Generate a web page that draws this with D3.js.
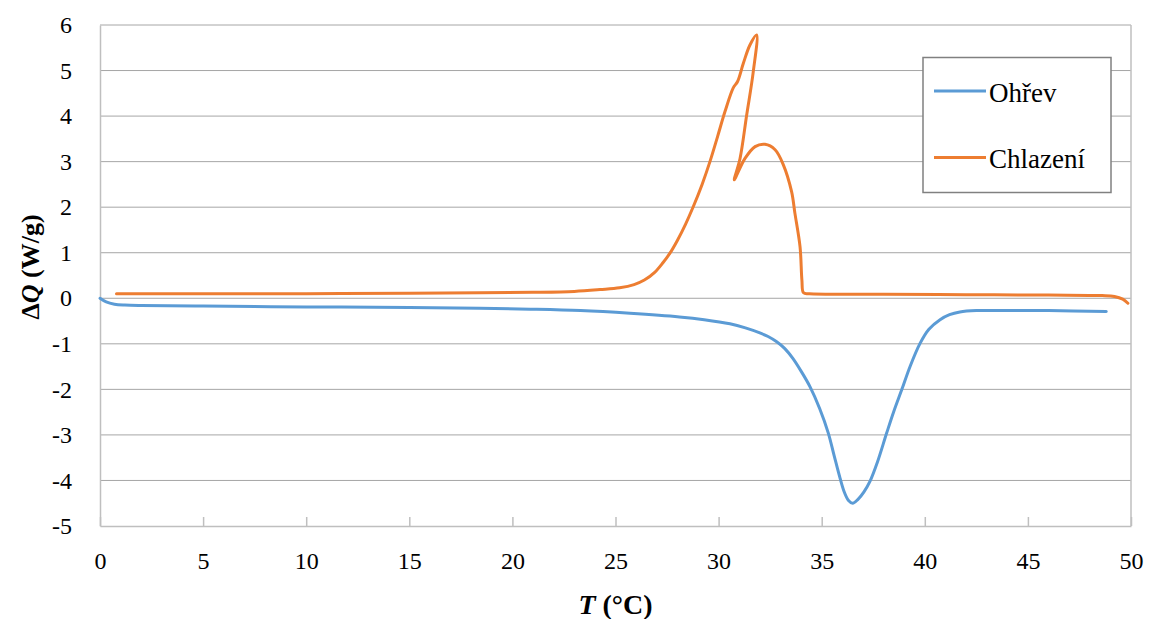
<!DOCTYPE html>
<html>
<head>
<meta charset="utf-8">
<script src="https://cdn.jsdelivr.net/npm/d3@7"></script>
<style>
  html, body { margin: 0; padding: 0; background: #fff; }
  svg { display: block; }
  svg text { font-family: "Liberation Serif", "DejaVu Serif", "Noto Serif", serif !important; }
</style>
</head>
<body>
<svg id="chart" width="1149" height="619"></svg>
<script>
// ---- data ----
const seriesNames = ["Ohřev", "Chlazení"];
const seriesColors = ["#5b9bd5", "#ed7d31"];

// Ohřev (heating): [T, dQ]
const ohrevT = [0, 0.3, 0.7, 1.2, 2, 5, 10, 15, 18.4, 21, 23.3, 25.7, 28.1, 29.3, 30.55, 31.3, 32, 32.4, 32.8, 33.2, 33.6, 34, 34.43, 34.9, 35.32, 35.6, 35.89, 36.1, 36.3, 36.5, 36.75, 37.05, 37.34, 37.7, 38.15, 38.5, 38.88, 39.3, 39.77, 40.2, 40.74, 41.2, 41.7, 42.5, 44, 46, 48.8];
const ohrevQ = [0, -0.08, -0.13, -0.15, -0.16, -0.17, -0.19, -0.2, -0.22, -0.24, -0.27, -0.33, -0.41, -0.47, -0.56, -0.65, -0.76, -0.84, -0.95, -1.1, -1.32, -1.6, -1.94, -2.42, -2.96, -3.45, -3.95, -4.26, -4.44, -4.5, -4.42, -4.25, -4.02, -3.6, -2.96, -2.48, -2.01, -1.48, -0.99, -0.68, -0.47, -0.36, -0.3, -0.27, -0.27, -0.27, -0.29];

// Chlazení (cooling): [T, dQ] in path order
const chlazT = [0.8, 5, 10, 15, 18.4, 21, 23, 24.25, 25.2, 25.9, 26.4, 26.9, 27.3, 27.64, 28.0, 28.4, 28.77, 29.2, 29.58, 29.95, 30.31, 30.71, 30.92, 31.2, 31.52, 31.84, 31.68, 31.36, 31.04, 30.76, 31.28, 31.77, 32.25, 32.74, 33.14, 33.54, 33.7, 33.95, 34.04, 34.12, 34.4, 38, 42, 46, 48.6, 49.2, 49.6, 49.85];
const chlazQ = [0.1, 0.1, 0.1, 0.11, 0.12, 0.13, 0.15, 0.19, 0.23, 0.3, 0.4, 0.57, 0.78, 0.99, 1.27, 1.63, 2.01, 2.5, 3.0, 3.55, 4.1, 4.62, 4.76, 5.16, 5.56, 5.78, 4.97, 4.02, 3.07, 2.6, 3.07, 3.33, 3.38, 3.26, 2.93, 2.34, 1.87, 1.13, 0.4, 0.12, 0.1, 0.09, 0.08, 0.07, 0.06, 0.04, -0.02, -0.11];

const xTicks = [0, 5, 10, 15, 20, 25, 30, 35, 40, 45, 50];
const yTicks = [-5, -4, -3, -2, -1, 0, 1, 2, 3, 4, 5, 6];

// ---- layout ----
const svg = d3.select("#chart");
const L = 100, R = 1131, T = 25, B = 526;
const x = d3.scaleLinear().domain([0, 50]).range([L, R]);
const y = d3.scaleLinear().domain([-5, 6]).range([B, T]);

const gridColor = "#a6a6a6";
const axisColor = "#bfbfbf";
const fmt = d => String(d);

// gridlines
svg.append("g").selectAll("line")
  .data(yTicks.filter(d => d > -5))
  .join("line")
  .attr("x1", L).attr("x2", R)
  .attr("y1", d => y(d)).attr("y2", d => y(d))
  .attr("stroke", gridColor).attr("stroke-width", 1);

// right border
svg.append("line")
  .attr("x1", R).attr("x2", R).attr("y1", T).attr("y2", B)
  .attr("stroke", axisColor).attr("stroke-width", 1.5);

// x axis
const xAxis = svg.append("g")
  .attr("transform", `translate(0,${B})`)
  .call(d3.axisBottom(x).tickValues(xTicks).tickSizeInner(-9).tickSizeOuter(0).tickFormat(fmt));
xAxis.select(".domain").attr("stroke", axisColor).attr("stroke-width", 1.5);
xAxis.selectAll(".tick line").attr("stroke", axisColor).attr("stroke-width", 1.5);
xAxis.selectAll(".tick text")
  .attr("y", 43).attr("dy", 0)
  .attr("font-size", 24).attr("fill", "#000");

// y axis
const yAxis = svg.append("g")
  .attr("transform", `translate(${L},0)`)
  .call(d3.axisLeft(y).tickValues(yTicks).tickSize(0).tickPadding(28).tickFormat(fmt));
yAxis.select(".domain").attr("stroke", axisColor).attr("stroke-width", 1.5);
yAxis.selectAll(".tick text")
  .attr("font-size", 24).attr("fill", "#000");

// series
const ohrev = ohrevT.map((t, i) => [t, ohrevQ[i]]);
const chlaz = chlazT.map((t, i) => [t, chlazQ[i]]);
const line = d3.line().x(d => x(d[0])).y(d => y(d[1])).curve(d3.curveCatmullRom.alpha(0.5));

const plot = svg.append("g");
[ohrev, chlaz].forEach((s, i) => {
  plot.append("path")
    .datum(s)
    .attr("d", line)
    .attr("fill", "none")
    .attr("stroke", seriesColors[i])
    .attr("stroke-width", 3)
    .attr("stroke-linejoin", "round")
    .attr("stroke-linecap", "round");
});

// axis titles
const xt = svg.append("text")
  .attr("x", (L + R) / 2).attr("y", 614)
  .attr("text-anchor", "middle")
  .attr("font-size", 28).attr("font-weight", "bold");
xt.append("tspan").attr("font-style", "italic").text("T");
xt.append("tspan").text(" (°C)");

const yt = svg.append("text")
  .attr("transform", `translate(39,267) rotate(-90)`)
  .attr("text-anchor", "middle")
  .attr("font-size", 26).attr("font-weight", "bold");
yt.append("tspan").text("Δ");
yt.append("tspan").attr("font-style", "italic").text("Q");
yt.append("tspan").text(" (W/g)");

// legend
const lg = svg.append("g");
lg.append("rect")
  .attr("x", 923).attr("y", 57.5).attr("width", 188).attr("height", 135)
  .attr("fill", "#fff").attr("stroke", "#808080").attr("stroke-width", 1.5);
const legendY = [91, 157.5];
const legendBase = [102, 168];
seriesNames.forEach((name, i) => {
  lg.append("line")
    .attr("x1", 934).attr("x2", 986)
    .attr("y1", legendY[i]).attr("y2", legendY[i])
    .attr("stroke", seriesColors[i]).attr("stroke-width", 3);
  lg.append("text")
    .attr("x", 989).attr("y", legendBase[i])
    .attr("font-size", 27).attr("fill", "#000")
    .text(name);
});
</script>
</body>
</html>
